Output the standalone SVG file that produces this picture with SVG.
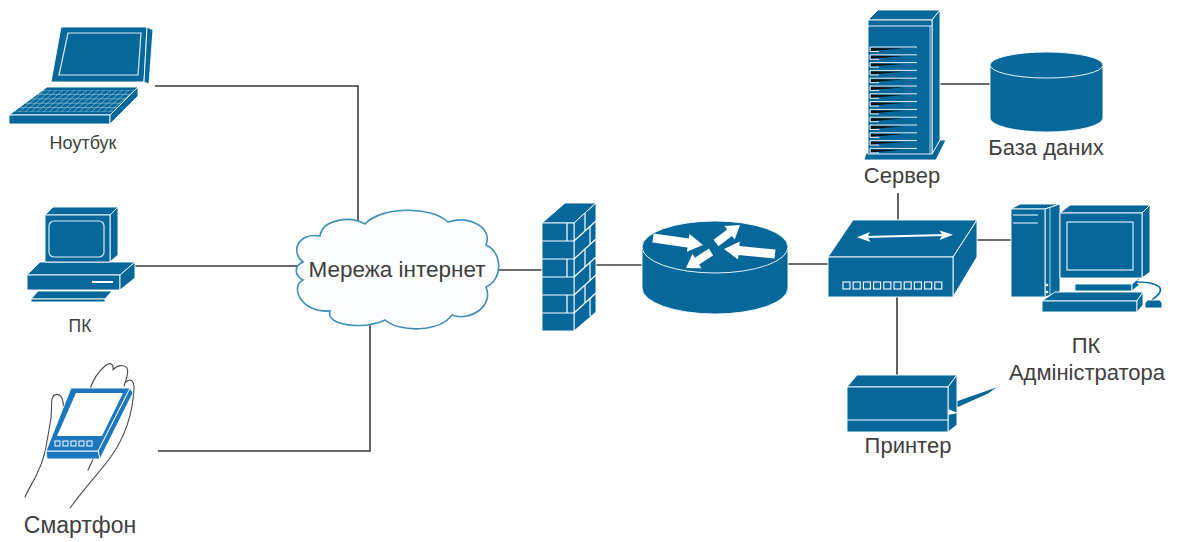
<svg xmlns="http://www.w3.org/2000/svg" width="1177" height="542" viewBox="0 0 1177 542">
<style>
.face{fill:#06689a;stroke:#ffffff;stroke-width:0.9;stroke-linejoin:round}
.phone{fill:#1d77be;stroke:#ffffff;stroke-width:0.9;stroke-linejoin:round}
.hl{fill:none;stroke:#dcebf3;stroke-width:1.2}
.wh{fill:#ffffff}
.wire{fill:none;stroke:#3a3a3a;stroke-width:1.6}
.hand{fill:none;stroke:#4a4a4a;stroke-width:1.1;stroke-linecap:round;stroke-linejoin:round}
.lbl{font-family:"Liberation Sans",Arial,sans-serif;fill:#404040;text-anchor:middle}
</style>
<defs>
  <clipPath id="kbdClip"><polygon points="43,90 135,90 113,112 13,112"/></clipPath>
  <g id="slot">
    <polygon points="871,1 903,1.4 871,4" fill="#111"/>
    <path d="M870,0 H917 M870,0 V4.5 H879" stroke="#ffffff" stroke-width="0.9" fill="none"/>
  </g>
  <rect id="port" width="7" height="7" fill="none" stroke="#ffffff" stroke-width="1.1"/>
</defs>

<!-- connectors -->
<g id="connectors">
  <polyline class="wire" points="155,86 358,86 358,226"/>
  <line class="wire" x1="135" y1="266" x2="298" y2="266"/>
  <polyline class="wire" points="158,451 370,451 370,325"/>
  <line class="wire" x1="498" y1="270" x2="542" y2="270"/>
  <line class="wire" x1="596" y1="265" x2="642" y2="265"/>
  <line class="wire" x1="788" y1="264" x2="828" y2="264"/>
  <line class="wire" x1="898" y1="193" x2="898" y2="221"/>
  <line class="wire" x1="940" y1="84" x2="990" y2="84"/>
  <line class="wire" x1="977" y1="240" x2="1011" y2="240"/>
  <line class="wire" x1="897" y1="297" x2="897" y2="376"/>
</g>

<!-- laptop -->
<g id="laptop">
  <polygon class="face" points="61,27 147,27 144,82 51,82"/>
  <polygon class="face" points="147,27 153,30 149,84 144,82"/>
  <polygon class="hl" points="68,33 141,33 138,75 59,75"/>
  <polygon class="face" points="47,87 138,87 110,115 9,115"/>
  <polygon class="face" points="9,115 110,115 110,124 9,124"/>
  <polygon class="face" points="110,115 138,87 138,96 110,124"/>
  <g clip-path="url(#kbdClip)" stroke="#8fc0d8" stroke-width="0.7">
    <path d="M0,90 H140 M0,94.4 H140 M0,98.8 H140 M0,103.2 H140 M0,107.6 H140 M0,112 H140"/>
    <path d="M45,90 l-26,22 M51,90 l-26,22 M57,90 l-26,22 M63,90 l-26,22 M69,90 l-26,22 M75,90 l-26,22 M81,90 l-26,22 M87,90 l-26,22 M93,90 l-26,22 M99,90 l-26,22 M105,90 l-26,22 M111,90 l-26,22 M117,90 l-26,22 M123,90 l-26,22 M129,90 l-26,22 M135,90 l-26,22 M141,90 l-26,22"/>
  </g>
  <text class="lbl" x="83" y="149" font-size="18">Ноутбук</text>
</g>

<!-- desktop PC -->
<g id="pc">
  <polygon class="face" points="27,275 40,262 135,262 120,275"/>
  <polygon class="face" points="27,275 120,275 120,290 27,290"/>
  <polygon class="face" points="120,275 135,262 135,278 120,290"/>
  <line x1="92" y1="282" x2="113" y2="282" stroke="#ffffff" stroke-width="2"/>
  <polygon class="face" points="45,215 53,207 118,207 110,215"/>
  <polygon class="face" points="110,215 118,207 118,255 110,262"/>
  <polygon class="face" points="45,215 110,215 110,262 45,262"/>
  <rect class="hl" x="49" y="221" width="55" height="36" rx="5"/>
  <polygon class="face" points="38,291 112,291 105,299 31,299"/>
  <polygon class="face" points="31,299 105,299 105,302 31,302"/>
  <text class="lbl" x="80" y="332" font-size="17.5">ПК</text>
</g>

<!-- smartphone in hand -->
<g id="smartphone">
  <path class="hand" d="M25,497 C29,488 33,482 36,476 C40,468 43,460 45,452 C47,442 49,430 51,418 C52,410 51,404 52,399 C54,393 59,393 62,398 C64,404 64,411 62,418"/>
  <path class="hand" d="M90,389 C93,380 99,371 105,366 C109,362 114,363 113,370 C117,365 124,364 127,368 C129,372 127,378 124,386"/>
  <path class="hand" d="M126,382 C130,378 134,380 134,388 C133,410 126,436 110,458 C99,473 86,486 70,508"/>
  <path class="hand" d="M88,470 C92,462 95,456 97,449"/>
  <polygon class="phone" points="98,451 130,388 133,393 100,459"/>
  <polygon class="phone" points="46,451 98,451 100,459 47,459"/>
  <polygon class="phone" points="71,388 130,388 98,451 46,451"/>
  <polygon class="wh" points="76,393 123,393 102,436 57,436"/>
  <g fill="none" stroke="#ffffff" stroke-width="1">
    <rect x="55" y="441" width="5" height="5"/>
    <rect x="63" y="441" width="5" height="5"/>
    <rect x="71" y="441" width="5" height="5"/>
    <rect x="79" y="441" width="5" height="5"/>
    <rect x="87" y="441" width="5" height="5"/>
  </g>
  <text class="lbl" x="80" y="533" font-size="23">Смартфон</text>
</g>

<!-- internet cloud -->
<g id="internet">
  <path d="M303,262 C290,252 298,232 320,236 C322,220 350,215 365,224 C380,207 430,205 448,222 C470,215 493,228 486,245 C503,252 503,280 486,287 C494,306 470,322 452,315 C440,332 400,333 385,320 C365,330 325,326 330,311 C300,313 290,286 303,280 C294,275 294,266 303,262 Z" fill="#fbfdfe" stroke="#3e8fba" stroke-width="1.6"/>
  <text class="lbl" x="397" y="277" font-size="22.5">Мережа інтернет</text>
</g>

<!-- firewall -->
<g id="firewall">
  <polygon class="face" points="542,223 565,203 596,203 574,223"/>
  <polygon class="face" points="574,223 596,203 596,312 574,331"/>
  <polygon class="face" points="542,223 574,223 574,331 542,331"/>
  <g stroke="#ffffff" stroke-width="1.2" fill="none">
    <path d="M542,241 H574 M542,259 H574 M542,277 H574 M542,295 H574 M542,313 H574"/>
    <path d="M574,241 L596,221 M574,259 L596,239 M574,277 L596,257 M574,295 L596,275 M574,313 L596,293"/>
    <path d="M567,223 V241 M567,259 V277 M567,295 V313"/>
    <path d="M585,213 V231 M590,226 V244 M585,249 V267 M590,262 V280 M585,285 V303 M590,298 V316"/>
    <path d="M553,203 L565,203"/>
  </g>
</g>

<!-- router -->
<g id="router">
  <path class="face" d="M642,247 V288 A73,26 0 0 0 788,288 V247 Z"/>
  <ellipse class="face" cx="715" cy="247" rx="73" ry="26"/>
  <g class="wh">
    <polygon points="653.6,233.5 688.8,238.4 689.4,234 703,245 686.9,251.8 687.5,247.4 652.4,242.5"/>
    <polygon points="713.6,239.8 727.2,229.6 724.5,226 740,225 734.7,239.6 732,236 718.4,246.2"/>
    <polygon points="775.4,249.5 739.3,246 739.8,241.5 724,249 738,259.5 738.5,255 774.6,258.5"/>
    <polygon points="708.9,248.6 694.9,257.7 692.5,253.9 686,268 701.5,268.3 699.1,264.5 713.1,255.4"/>
  </g>
</g>

<!-- switch -->
<g id="switch">
  <polygon class="face" points="828,257 853,220 977,220 953,257"/>
  <polygon class="face" points="953,257 977,220 977,257 953,297"/>
  <polygon class="face" points="828,257 953,257 953,297 828,297"/>
  <line x1="864" y1="237" x2="946" y2="235" stroke="#ffffff" stroke-width="2"/>
  <polygon class="wh" points="857,237.2 870,232 867.5,237 870.5,242"/>
  <polygon class="wh" points="953,234.8 939.5,230.5 942.5,235 939.5,240"/>
  <use href="#port" x="843" y="282"/>
  <use href="#port" x="853.2" y="282"/>
  <use href="#port" x="863.4" y="282"/>
  <use href="#port" x="873.6" y="282"/>
  <use href="#port" x="883.8" y="282"/>
  <use href="#port" x="894" y="282"/>
  <use href="#port" x="904.2" y="282"/>
  <use href="#port" x="914.4" y="282"/>
  <use href="#port" x="924.6" y="282"/>
  <use href="#port" x="934.8" y="282"/>
</g>

<!-- server -->
<g id="server">
  <polygon class="face" points="864,160 936,160 946,140 940,140 932,153 866,153"/>
  <polygon class="face" points="868,20 878,10 940,10 932,20"/>
  <polygon class="face" points="932,20 940,10 940,140 932,154"/>
  <polygon class="face" points="868,20 932,20 932,154 868,154"/>
  <line x1="868" y1="26" x2="932" y2="26" stroke="#dcebf3" stroke-width="1"/>
  <line x1="930" y1="26" x2="930" y2="154" stroke="#dcebf3" stroke-width="0.8"/>
  <use href="#slot" y="47"/>
  <use href="#slot" y="54.8"/>
  <use href="#slot" y="62.6"/>
  <use href="#slot" y="70.4"/>
  <use href="#slot" y="78.2"/>
  <use href="#slot" y="86"/>
  <use href="#slot" y="93.8"/>
  <use href="#slot" y="101.6"/>
  <use href="#slot" y="109.4"/>
  <use href="#slot" y="117.2"/>
  <use href="#slot" y="125"/>
  <use href="#slot" y="132.8"/>
  <use href="#slot" y="140.6"/>
  <use href="#slot" y="148.4"/>
  <text class="lbl" x="902" y="183" font-size="22">Сервер</text>
</g>

<!-- database -->
<g id="database">
  <path class="face" d="M990,65 V118 A56.5,14 0 0 0 1103,118 V65 Z"/>
  <ellipse class="face" cx="1046.5" cy="65" rx="56.5" ry="13"/>
  <text class="lbl" x="1046" y="155" font-size="22">База даних</text>
</g>

<!-- administrator workstation -->
<g id="admin-pc">
  <polygon class="face" points="1011,209 1020,204 1060,204 1045,209"/>
  <polygon class="face" points="1045,209 1060,204 1060,292 1045,297"/>
  <polygon class="face" points="1011,209 1045,209 1045,297 1011,297"/>
  <line x1="1050" y1="208" x2="1050" y2="295" stroke="#dcebf3" stroke-width="0.8"/>
  <path d="M1013,215 H1038 M1013,223 H1038" stroke="#ffffff" stroke-width="1"/>
  <circle cx="1047" cy="285" r="1.3" class="wh"/>
  <circle cx="1047" cy="292" r="1.3" class="wh"/>
  <polygon class="face" points="1075,284 1132,284 1132,291 1075,291"/>
  <polygon class="face" points="1132,284 1139,278 1139,285 1132,291"/>
  <polygon class="face" points="1060,213 1070,205 1150,205 1142,213"/>
  <polygon class="face" points="1142,213 1150,205 1150,272 1142,278"/>
  <polygon class="face" points="1060,213 1142,213 1142,278 1060,278"/>
  <rect class="hl" x="1067" y="222" width="66" height="48"/>
  <path d="M1137,282 C1146,282 1156,283 1160,288 C1162,292 1157,296 1152,300" fill="none" stroke="#ffffff" stroke-width="3.4"/>
  <path d="M1137,282 C1146,282 1156,283 1160,288 C1162,292 1157,296 1152,300" fill="none" stroke="#06689a" stroke-width="1.7"/>
  <polygon class="face" points="1148,300 1160,300 1162,303 1162,308 1145,308 1145,303"/>
  <polygon class="face" points="1055,292 1143,292 1137,301 1042,301"/>
  <polygon class="face" points="1042,301 1137,301 1137,312 1042,312"/>
  <polygon class="face" points="1137,301 1143,292 1143,305 1137,312"/>
  <text class="lbl" x="1086" y="353" font-size="22">ПК</text>
  <text class="lbl" x="1087" y="380" font-size="22">Адміністратора</text>
</g>

<!-- printer -->
<g id="printer">
  <polygon class="face" points="948,404 999,386 988,394 950,411"/>
  <polygon class="face" points="847,387 857,375 957,375 948,387"/>
  <polygon class="face" points="948,387 957,375 957,425 948,432"/>
  <polygon class="face" points="847,387 948,387 948,432 847,432"/>
  <line x1="847" y1="420" x2="948" y2="420" stroke="#ffffff" stroke-width="1.2"/>
  <polygon class="wh" points="948,409 958,413 948,415"/>
  <text class="lbl" x="908" y="453" font-size="22">Принтер</text>
</g>
</svg>
